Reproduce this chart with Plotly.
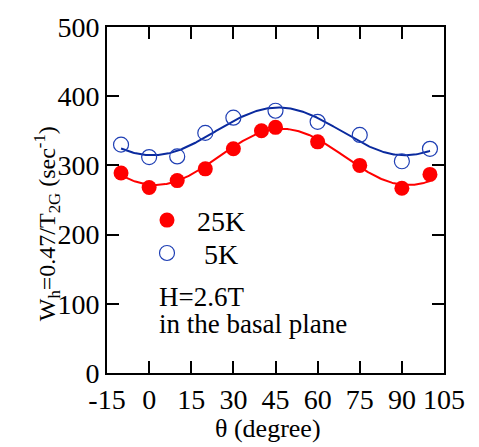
import numpy as np
import plotly.graph_objects as go

# Measured angles (degree) and relaxation rates (sec^-1)
theta = [-10, 0, 10, 20, 30, 40, 45, 60, 75, 90, 100]
w_25k = [289, 268, 278, 295, 324, 350, 355, 334, 300, 267, 287]
theta_5k = [-10, 0, 10, 20, 30, 45, 60, 75, 90, 100]
w_5k = [330, 312, 313, 347, 369, 379, 363, 344, 306, 324]

x_ticks = [-15, 0, 15, 30, 45, 60, 75, 90, 105]
y_ticks = [0, 100, 200, 300, 400, 500]

RED = "#ff0000"
BLUE = "#1f3fb4"
NAVY = "#0a2a9e"
FONT = "Liberation Serif, Times New Roman, serif"


def fourfold_fit(x, y):
    """Least-squares fit of A + B cos(4θ) + C sin(4θ) and a smooth curve."""
    x = np.asarray(x, float)
    y = np.asarray(y, float)
    r = np.deg2rad(4 * x)
    m = np.column_stack([np.ones_like(r), np.cos(r), np.sin(r)])
    coef, *_ = np.linalg.lstsq(m, y, rcond=None)
    xs = np.linspace(x.min(), x.max(), 300)
    rs = np.deg2rad(4 * xs)
    return xs, coef[0] + coef[1] * np.cos(rs) + coef[2] * np.sin(rs)


fx5, fy5 = fourfold_fit(theta_5k, w_5k)
fx25, fy25 = fourfold_fit(theta, w_25k)

fig = go.Figure()
fig.add_trace(go.Scatter(x=fx5, y=fy5, mode="lines", line=dict(color=NAVY, width=2),
                         showlegend=False, hoverinfo="skip"))
fig.add_trace(go.Scatter(x=fx25, y=fy25, mode="lines", line=dict(color=RED, width=2),
                         showlegend=False, hoverinfo="skip"))
fig.add_trace(go.Scatter(x=theta, y=w_25k, mode="markers", name="25K", legend="legend",
                         marker=dict(symbol="circle", size=15, color=RED,
                                     line=dict(width=0))))
fig.add_trace(go.Scatter(x=theta_5k, y=w_5k, mode="markers", name="\u00a05K",
                         legend="legend2",
                         marker=dict(symbol="circle-open", size=15, color=BLUE,
                                     line=dict(width=1.2, color=BLUE))))

axis_common = dict(
    showline=True, linecolor="black", linewidth=2, mirror="ticks",
    ticks="inside", ticklen=12, tickwidth=1.5, tickcolor="black",
    showgrid=False, zeroline=False, ticklabeloverflow="allow",
    tickfont=dict(family=FONT, size=28, color="black"),
)

fig.update_xaxes(range=[-15, 105], tickvals=x_ticks, ticktext=[str(v) for v in x_ticks],
                 **axis_common)
fig.update_yaxes(range=[0, 500], tickvals=y_ticks, ticktext=[str(v) for v in y_ticks],
                 **axis_common)

# Axis titles
fig.add_annotation(xref="paper", yref="paper", x=0.478, y=-0.159, xanchor="center",
                   yanchor="middle", showarrow=False, text="θ (degree)",
                   font=dict(family=FONT, size=26, color="black"))
fig.add_annotation(xref="paper", yref="paper", x=-0.178, y=0.43, xanchor="center",
                   yanchor="middle", showarrow=False, textangle=-90,
                   text="W<sub>h</sub>=0.47/T<sub>2G</sub> (sec<sup>-1</sup>)",
                   font=dict(family=FONT, size=24, color="black"))

# Measurement conditions
fig.add_annotation(xref="paper", yref="paper", x=0.148, y=0.219, xanchor="left",
                   yanchor="middle", showarrow=False, text="H=2.6T",
                   font=dict(family=FONT, size=27, color="black"))
fig.add_annotation(xref="paper", yref="paper", x=0.148, y=0.141, xanchor="left",
                   yanchor="middle", showarrow=False, text="in the basal plane",
                   font=dict(family=FONT, size=27, color="black"))

legend_common = dict(xanchor="left", yanchor="middle",
                     font=dict(family=FONT, size=28, color="black"),
                     bgcolor="rgba(0,0,0,0)", itemwidth=50)

fig.update_layout(
    width=479, height=447,
    margin=dict(l=107, r=35, t=15, b=74),
    paper_bgcolor="white", plot_bgcolor="white",
    legend=dict(x=0.089, y=0.441, **legend_common),
    legend2=dict(x=0.089, y=0.346, **legend_common),
)

fig.write_html("out.html")
